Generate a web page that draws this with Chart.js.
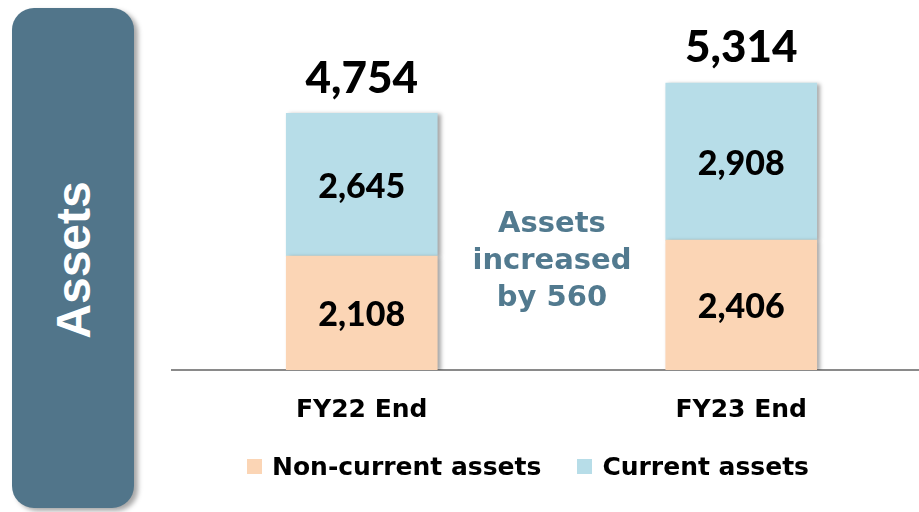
<!DOCTYPE html>
<html>
<head>
<meta charset="utf-8">
<script src="https://cdn.jsdelivr.net/npm/chart.js@4"></script>
<style>
  html, body { margin: 0; padding: 0; width: 919px; height: 512px; overflow: hidden; background: #fff; }
  #side { position: absolute; left: 12px; top: 8px; width: 122px; height: 500px; background: #51758a;
          border-radius: 22px; box-shadow: 4px 3px 5px rgba(0,0,0,0.35); }
  #side span { position: absolute; left: 50%; top: 252px; transform: translate(-50%, -50%) rotate(-90deg);
          color: #fff; font: bold 48px "Liberation Sans", Arial, sans-serif; white-space: nowrap; }
  #wrap { position: absolute; left: 0; top: 0; width: 935px; height: 512px; }
  #note { position: absolute; left: 452px; top: 204px; width: 200px; text-align: center; color: #527a8f;
          font: bold 29px/37px "DejaVu Sans", Verdana, sans-serif; }
  #legend { position: absolute; left: 247px; top: 451px; font: bold 25px "DejaVu Sans", Verdana, sans-serif; color: #000; }
  #legend .it { display: inline-flex; align-items: center; margin-right: 36px; }
  #legend .sw { width: 15px; height: 15px; margin-right: 10px; display: inline-block; }
</style>
</head>
<body>
<div id="side"><span>Assets</span></div>
<div id="wrap"><canvas id="c"></canvas></div>
<div id="note">Assets<br>increased<br>by 560</div>
<div id="legend"></div>
<script>
const categories = ['FY22 End', 'FY23 End'];
const nonCurrent = [2108, 2406];
const current = [2645, 2908];
const totals = [4754, 5314];
const seriesNames = ['Non-current assets', 'Current assets'];
const seriesColors = ['#fbd5b5', '#b7dde8'];

const fmt = v => v.toLocaleString('en-US');

const barShadow = {
  id: 'barShadow',
  beforeDatasetsDraw(chart) {
    const ctx = chart.ctx;
    ctx.save();
    ctx.shadowColor = 'rgba(0,0,0,0.35)';
    ctx.shadowOffsetX = 3;
    ctx.shadowOffsetY = 1;
    ctx.shadowBlur = 4;
  },
  afterDatasetsDraw(chart) {
    chart.ctx.restore();
  }
};

const barLabels = {
  id: 'barLabels',
  afterDatasetsDraw(chart) {
    const ctx = chart.ctx;
    ctx.save();
    ctx.fillStyle = '#000';
    ctx.textAlign = 'center';
    ctx.textBaseline = 'middle';
    ctx.font = '900 34px Lato, "Open Sans", sans-serif';
    chart.data.datasets.forEach((ds, i) => {
      chart.getDatasetMeta(i).data.forEach((bar, j) => {
        ctx.fillText(fmt(ds.data[j]), bar.x, (bar.y + bar.base) / 2 + 2);
      });
    });
    ctx.font = '900 44px Lato, "Open Sans", sans-serif';
    const top = chart.getDatasetMeta(1).data;
    top.forEach((bar, j) => {
      ctx.fillText(fmt(totals[j]), bar.x, bar.y - 35);
    });
    ctx.restore();
  }
};

new Chart(document.getElementById('c'), {
  type: 'bar',
  data: {
    labels: categories,
    datasets: [
      { label: seriesNames[0], data: nonCurrent, backgroundColor: seriesColors[0] },
      { label: seriesNames[1], data: current, backgroundColor: seriesColors[1] }
    ]
  },
  options: {
    responsive: true,
    maintainAspectRatio: false,
    animation: false,
    layout: { padding: { left: 172, right: 4, top: 46, bottom: 0 } },
    datasets: { bar: { barThickness: 151 } },
    scales: {
      x: {
        stacked: true,
        grid: { display: false, drawTicks: false },
        border: { display: true, color: '#8a8a8a', width: 2 },
        ticks: { color: '#000', padding: 25, font: { family: '"DejaVu Sans", Verdana, sans-serif', size: 25, weight: 'bold' } },
        afterFit(scale) { scale.height = 142; }
      },
      y: { stacked: true, display: false, min: 0, max: 6000 }
    },
    plugins: { legend: { display: false }, tooltip: { enabled: false } }
  },
  plugins: [barShadow, barLabels]
});

const legend = document.getElementById('legend');
seriesNames.forEach((name, i) => {
  const it = document.createElement('span');
  it.className = 'it';
  it.innerHTML = '<span class="sw" style="background:' + seriesColors[i] + '"></span>' + name;
  legend.appendChild(it);
});
</script>
</body>
</html>
